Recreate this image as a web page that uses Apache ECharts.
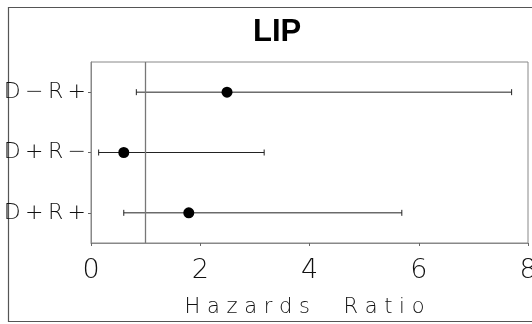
<!DOCTYPE html>
<html>
<head>
<meta charset="utf-8">
<script src="https://cdn.jsdelivr.net/npm/echarts@6/dist/echarts.min.js"></script>
<style>html,body{margin:0;padding:0;background:#fff;}#c{width:532px;height:324px;}</style>
</head>
<body>
<div id="c"></div>
<script>
var categories = ['D\u2009−\u2009R\u2009+', 'D\u2009+\u2009R\u2009−', 'D\u2009+\u2009R\u2009+'];
var hazardRatio = [2.49, 0.60, 1.79];
var lowerCI = [0.83, 0.14, 0.60];
var upperCI = [7.70, 3.17, 5.69];
var xTicks = [0, 2, 4, 6, 8];
var refValue = 1;

var FONT = '"DejaVu Sans", sans-serif';
var THIN = '200 condensed';
var chart = echarts.init(document.getElementById('c'), null, {renderer: 'canvas'});

var ciData = categories.map(function (c, i) { return [lowerCI[i], upperCI[i], i]; });
var ptData = categories.map(function (c, i) { return [hazardRatio[i], i]; });

chart.setOption({
  animation: false,
  backgroundColor: '#fff',
  title: {
    text: 'LIP', left: 248, top: 12,
    textStyle: {fontFamily: '"Liberation Sans", Arial, sans-serif', fontWeight: 'bold', fontSize: 31, color: '#000'}
  },
  graphic: [{
    type: 'rect', shape: {x: 8.5, y: 7.5, width: 540, height: 314},
    style: {fill: 'none', stroke: '#555', lineWidth: 1.2}, silent: true, z: -1
  }],
  grid: {left: 91, right: 4, top: 62, bottom: 81, show: true, borderColor: '#888', borderWidth: 1,
         containLabel: false, outerBoundsMode: 'none'},
  xAxis: {
    type: 'value', min: xTicks[0], max: xTicks[xTicks.length - 1], interval: 2,
    name: 'H a z a r d s     R a t i o', nameLocation: 'middle', nameGap: 54,
    nameTextStyle: {fontFamily: FONT, fontSize: 21, color: '#111', fontWeight: THIN, padding: [0, 10, 0, 0]},
    axisLine: {show: true, lineStyle: {color: '#888', width: 1}},
    axisTick: {show: true, length: 3, lineStyle: {color: '#666'}},
    splitLine: {show: false},
    axisLabel: {fontFamily: FONT, fontSize: 27, color: '#111', fontWeight: THIN, margin: 14, showMaxLabel: true, showMinLabel: true}
  },
  yAxis: {
    type: 'category', data: categories, inverse: true,
    axisLine: {show: true, lineStyle: {color: '#888'}},
    axisTick: {show: true, length: 3, alignWithLabel: true, lineStyle: {color: '#666'}},
    splitLine: {show: false},
    axisLabel: {fontFamily: FONT, fontSize: 22, color: '#111', fontWeight: THIN, margin: 5}
  },
  series: [{
    type: 'custom',
    data: ciData,
    encode: {x: [0, 1], y: 2},
    renderItem: function (params, api) {
      var lo = api.coord([api.value(0), api.value(2)]);
      var hi = api.coord([api.value(1), api.value(2)]);
      var h = 3;
      var st = {stroke: '#222', lineWidth: 1};
      return {
        type: 'group',
        children: [
          {type: 'line', shape: {x1: lo[0], y1: lo[1], x2: hi[0], y2: hi[1]}, style: st},
          {type: 'line', shape: {x1: lo[0], y1: lo[1] - h, x2: lo[0], y2: lo[1] + h}, style: st},
          {type: 'line', shape: {x1: hi[0], y1: hi[1] - h, x2: hi[0], y2: hi[1] + h}, style: st}
        ]
      };
    },
    z: 2
  }, {
    type: 'scatter',
    data: ptData,
    symbol: 'circle', symbolSize: 11,
    itemStyle: {color: '#000', opacity: 1},
    z: 3,
    markLine: {
      silent: true, symbol: 'none', label: {show: false},
      lineStyle: {color: '#777', type: 'solid', width: 1.3},
      data: [{xAxis: refValue}]
    }
  }]
});
</script>
</body>
</html>
